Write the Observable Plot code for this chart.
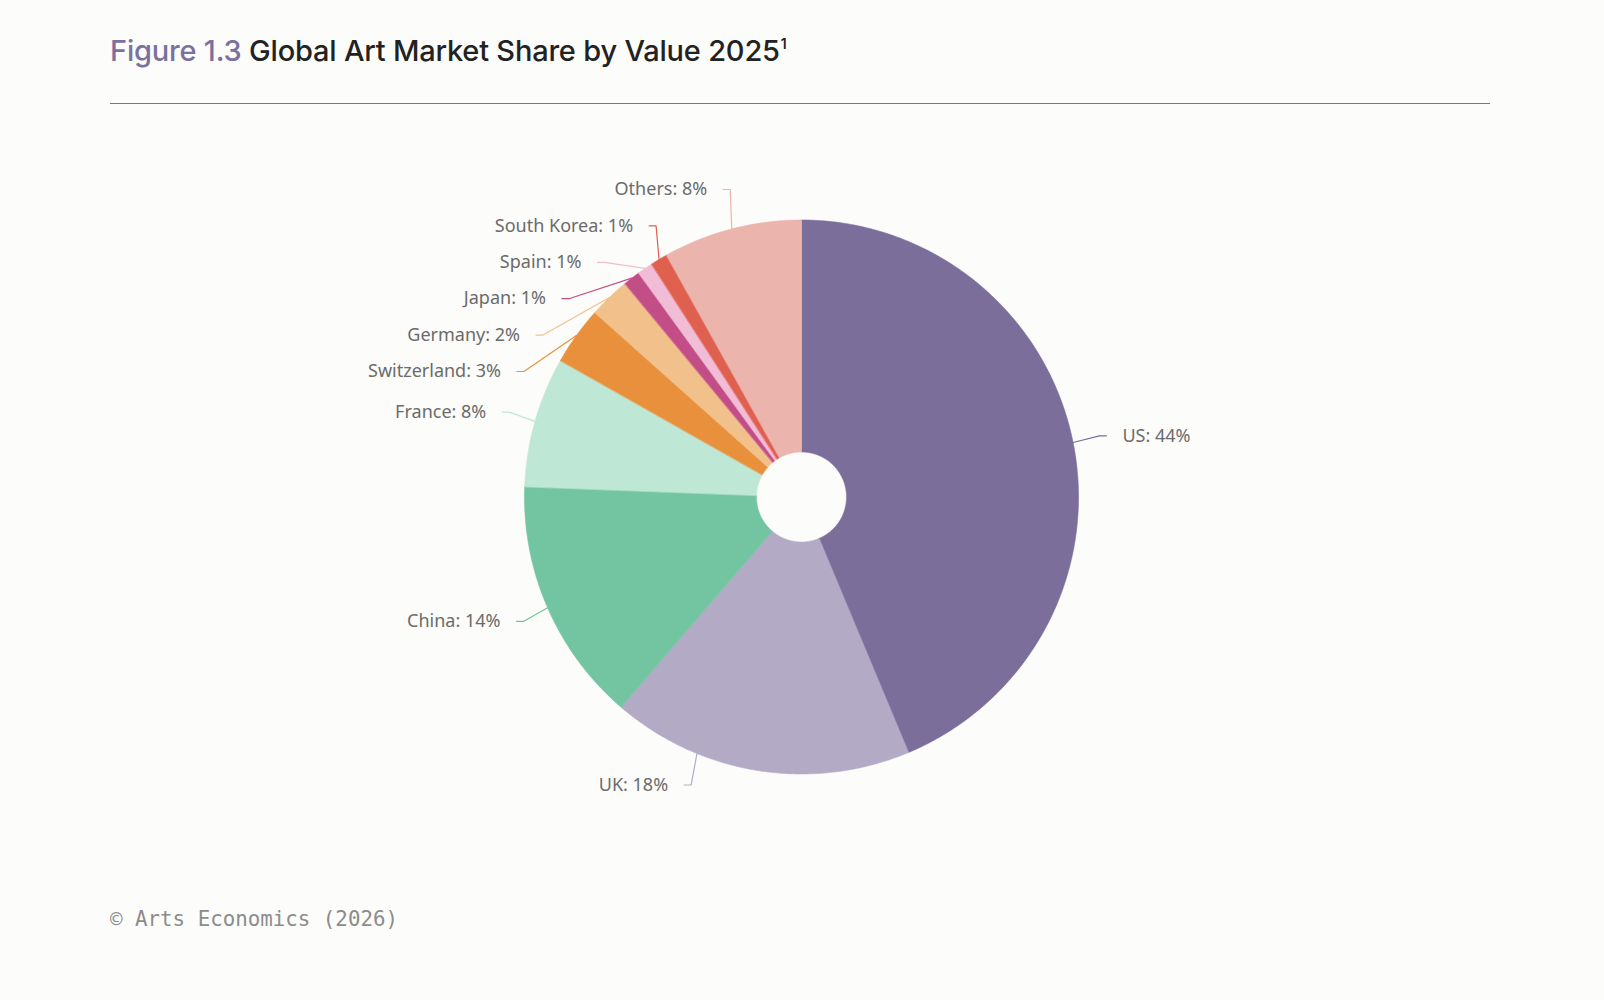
<!DOCTYPE html>
<html>
<head>
<meta charset="utf-8">
<script src="https://cdn.jsdelivr.net/npm/d3@7"></script>
<script src="https://cdn.jsdelivr.net/npm/@observablehq/plot@0.6"></script>
<style>
  html, body { margin: 0; padding: 0; background: #fcfcfa; }
  #page { position: relative; width: 1604px; height: 1000px; overflow: hidden; background: #fcfcfa; }
  #title { position: absolute; left: 110px; top: 36px; font-family: Inter, "Noto Sans", sans-serif; font-size: 29px; line-height: 29px; font-weight: 500; color: #222; white-space: nowrap; letter-spacing: -0.2px; }
  #title .fig { color: #7b719f; }
  #title sup { font-size: 14px; line-height: 14px; vertical-align: top; position: relative; top: 1px; margin-left: 1px; font-weight: 600; }
  #rule { position: absolute; left: 110px; top: 103px; width: 1380px; height: 0; border-top: 1.5px solid #7b719f; }
  #chart { position: absolute; left: 0; top: 120px; }
  #foot { position: absolute; left: 110px; top: 907px; font-family: "DejaVu Sans Mono", "Liberation Mono", monospace; font-size: 20.8px; color: #8c8c8c; white-space: nowrap; }
</style>
</head>
<body>
<div id="page">
  <div id="title"><span class="fig">Figure 1.3</span> Global Art Market Share by Value 2025<sup>1</sup></div>
  <div id="rule"></div>
  <div id="chart"></div>
  <div id="foot">© Arts Economics (2026)</div>
</div>
<script>
// ---- data ----
const categories = ["US", "UK", "China", "France", "Switzerland", "Germany", "Japan", "Spain", "South Korea", "Others"];
const shares = [43.7, 17.6, 14.3, 7.6, 3.4, 2.4, 1.0, 0.9, 1.0, 8.1];
const colors = ["#7b6e9b", "#b3abc6", "#72c5a0", "#bfe7d5", "#e8903c", "#f2c08b", "#c34e87", "#f1bdd6", "#e0604f", "#ebb4ad"];

// ---- layout ----
const W = 1604, H = 760, svgTop = 120;
const cx = 801, cy = 496.5;           // pie centre in page pixels
const rOuter = 277, rInner = 45;
const labelDist = 34, gap = 36.4, textPad = 16, bend = 7, xTol = 10;
const minY = -307.5, maxY = 288;     // label bounds (screen offset from centre)

const data = categories.map((name, i) => ({name, share: shares[i], color: colors[i]}));
const total = d3.sum(shares);
const arcs = d3.pie().sort(null).value(d => d.share)(data);

// slice outlines (x right, y up, in pixel units relative to centre)
const slicePts = [];
for (const a of arcs) {
  const n = Math.max(2, Math.ceil((a.endAngle - a.startAngle) / (Math.PI / 360)));
  for (let k = 0; k <= n; k++) {
    const t = a.startAngle + (a.endAngle - a.startAngle) * k / n;
    slicePts.push({name: a.data.name, x: rOuter * Math.sin(t), y: rOuter * Math.cos(t)});
  }
  for (let k = n; k >= 0; k--) {
    const t = a.startAngle + (a.endAngle - a.startAngle) * k / n;
    slicePts.push({name: a.data.name, x: rInner * Math.sin(t), y: rInner * Math.cos(t)});
  }
}

// labels
const R = rOuter + labelDist;
const labels = arcs.map(a => {
  const mid = (a.startAngle + a.endAngle) / 2;
  return {
    name: a.data.name,
    text: `${a.data.name}: ${Math.round(a.data.share / total * 100)}%`,
    a0: a.startAngle, a1: a.endAngle, mid,
    left: Math.sin(mid) < 0,
    nx: R * Math.sin(mid), ny: -R * Math.cos(mid)
  };
});

function distribute(items) {
  items.sort((p, q) => p.ny - q.ny);
  const place = c => {
    const n = c.items.length;
    let m = d3.mean(c.items, (d, i) => d.ny - i * gap);
    c.y0 = Math.max(minY, Math.min(maxY - (n - 1) * gap, m));
  };
  const clusters = items.map(d => ({items: [d]}));
  clusters.forEach(place);
  let changed = true;
  while (changed) {
    changed = false;
    for (let i = 1; i < clusters.length; i++) {
      const a = clusters[i - 1], b = clusters[i];
      if (a.y0 + a.items.length * gap > b.y0 + 1e-6) {
        a.items = a.items.concat(b.items);
        place(a);
        clusters.splice(i, 1);
        changed = true;
        break;
      }
    }
  }
  clusters.forEach(c => c.items.forEach((d, i) => { d.ly = c.y0 + i * gap; }));
}
distribute(labels.filter(d => d.left));
distribute(labels.filter(d => !d.left));

const connPts = [];
for (const d of labels) {
  const s = d.left ? -1 : 1;
  const circ = s * Math.sqrt(Math.max(0, R * R - d.ly * d.ly));
  const outOfBounds = d.ny < minY || d.ny > maxY;
  let touch = d.mid;
  if (outOfBounds) {
    d.lx = circ;
    let ang = Math.atan2(d.lx, -d.ly);
    if (ang < 0) ang += 2 * Math.PI;
    touch = Math.max(d.a0, Math.min(d.a1, ang));
  } else {
    d.lx = Math.abs(circ) >= Math.abs(d.nx) - xTol ? circ : d.nx;
  }
  d.tx = d.lx + s * textPad;
  d.y = -d.ly;
  connPts.push({name: d.name, x: rOuter * Math.sin(touch), y: rOuter * Math.cos(touch)});
  connPts.push({name: d.name, x: d.lx - s * bend, y: d.y});
  connPts.push({name: d.name, x: d.lx, y: d.y});
}

const textStyle = {fontSize: 18, fontFamily: "'Noto Sans', 'Open Sans', sans-serif", fill: "#6b6b6b"};

const chart = Plot.plot({
  width: W, height: H,
  margin: 0,
  style: {background: "transparent", overflow: "visible"},
  x: {domain: [-cx, W - cx], axis: null},
  y: {domain: [-(svgTop + H - cy), cy - svgTop], axis: null},
  color: {domain: categories, range: colors},
  marks: [
    Plot.line(slicePts, {x: "x", y: "y", z: "name", fill: "name", stroke: "name", strokeWidth: 0.6, curve: "linear-closed"}),
    Plot.line(connPts, {x: "x", y: "y", z: "name", stroke: "name", strokeWidth: 1.2}),
    Plot.text(labels.filter(d => d.left), {x: "tx", y: "y", text: "text", textAnchor: "end", ...textStyle}),
    Plot.text(labels.filter(d => !d.left), {x: "tx", y: "y", text: "text", textAnchor: "start", ...textStyle})
  ]
});
document.getElementById("chart").appendChild(chart);
</script>
</body>
</html>
